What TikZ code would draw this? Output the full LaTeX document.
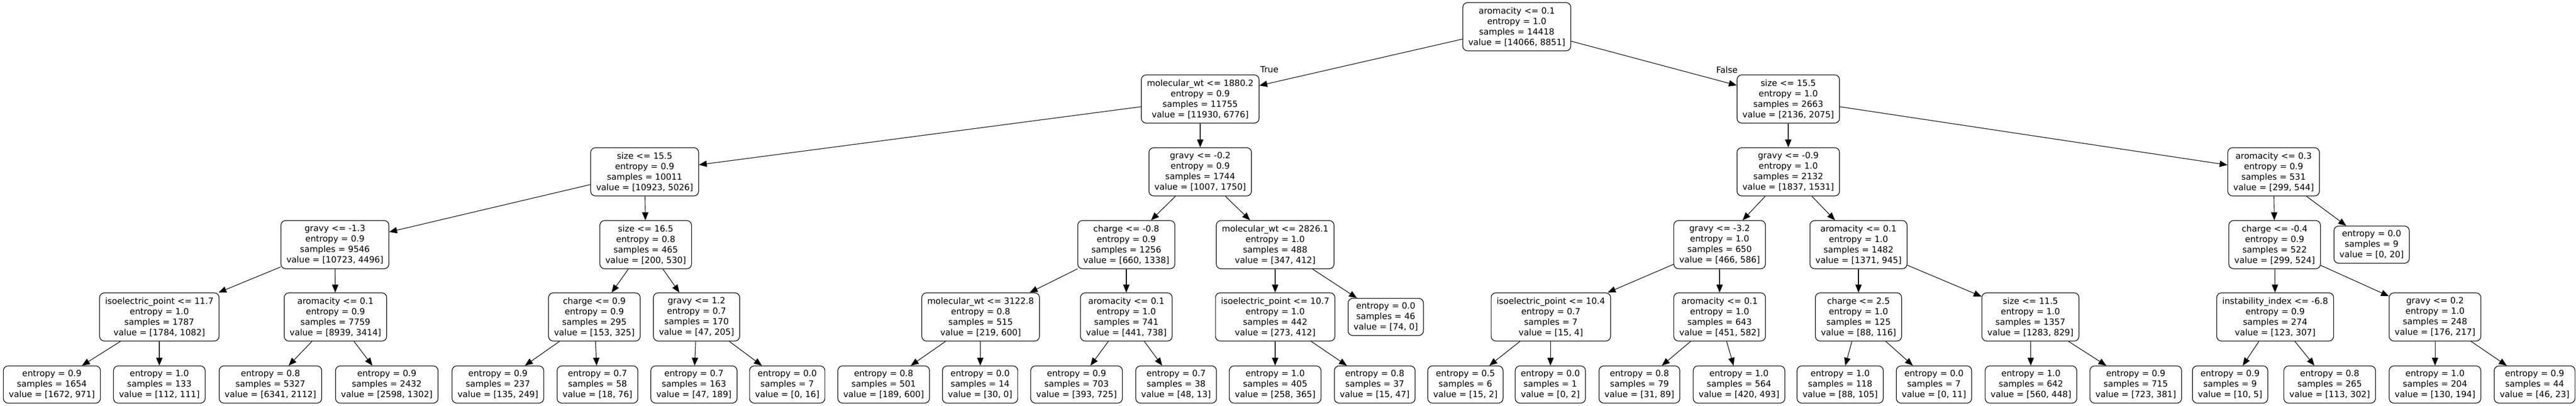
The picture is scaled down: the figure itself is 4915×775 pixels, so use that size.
\documentclass[tikz,border=0pt]{standalone}
\usepackage{fontspec}
\setmainfont{DejaVu Sans}
\usetikzlibrary{arrows.meta}

\begin{document}
\begin{tikzpicture}[x=1pt,y=-1pt,font=\fontsize{16.3}{20}\selectfont]
      \useasboundingbox (0,0) rectangle (4915,775);
      \begin{scope}[every node/.style={draw,line width=1.2pt,rounded corners=9pt,align=center,inner xsep=10.5pt,inner ysep=0pt},
          split/.style={minimum height=92pt},leaf/.style={minimum height=71pt}]
        \node[split] (0) at (2894,51) {aromacity <= 0.1\\entropy = 1.0\\samples = 14418\\value = [14066, 8851]};
        \node[split] (1) at (2290,189) {molecular\_wt <= 1880.2\\entropy = 0.9\\samples = 11755\\value = [11930, 6776]};
        \node[split] (2) at (1230,328) {size <= 15.5\\entropy = 0.9\\samples = 10011\\value = [10923, 5026]};
        \node[split] (3) at (639,467) {gravy <= -1.3\\entropy = 0.9\\samples = 9546\\value = [10723, 4496]};
        \node[split] (4) at (304,605) {isoelectric\_point <= 11.7\\entropy = 1.0\\samples = 1787\\value = [1784, 1082]};
        \node[leaf] (5) at (99,734) {entropy = 0.9\\samples = 1654\\value = [1672, 971]};
        \node[leaf] (6) at (304,734) {entropy = 1.0\\samples = 133\\value = [112, 111]};
        \node[split] (7) at (640,605) {aromacity <= 0.1\\entropy = 0.9\\samples = 7759\\value = [8939, 3414]};
        \node[leaf] (8) at (516,734) {entropy = 0.8\\samples = 5327\\value = [6341, 2112]};
        \node[leaf] (9) at (738,734) {entropy = 0.9\\samples = 2432\\value = [2598, 1302]};
        \node[split] (10) at (1232,467) {size <= 16.5\\entropy = 0.8\\samples = 465\\value = [200, 530]};
        \node[split] (11) at (1134,605) {charge <= 0.9\\entropy = 0.9\\samples = 295\\value = [153, 325]};
        \node[leaf] (12) at (950,734) {entropy = 0.9\\samples = 237\\value = [135, 249]};
        \node[leaf] (13) at (1140,734) {entropy = 0.7\\samples = 58\\value = [18, 76]};
        \node[split] (14) at (1329,605) {gravy <= 1.2\\entropy = 0.7\\samples = 170\\value = [47, 205]};
        \node[leaf] (15) at (1324,734) {entropy = 0.7\\samples = 163\\value = [47, 189]};
        \node[leaf] (16) at (1502,734) {entropy = 0.0\\samples = 7\\value = [0, 16]};
        \node[split] (17) at (2290,328) {gravy <= -0.2\\entropy = 0.9\\samples = 1744\\value = [1007, 1750]};
        \node[split] (18) at (2149,467) {charge <= -0.8\\entropy = 0.9\\samples = 1256\\value = [660, 1338]};
        \node[split] (19) at (1871,605) {molecular\_wt <= 3122.8\\entropy = 0.8\\samples = 515\\value = [219, 600]};
        \node[leaf] (20) at (1686,734) {entropy = 0.8\\samples = 501\\value = [189, 600]};
        \node[leaf] (21) at (1870,734) {entropy = 0.0\\samples = 14\\value = [30, 0]};
        \node[split] (22) at (2149,605) {aromacity <= 0.1\\entropy = 1.0\\samples = 741\\value = [441, 738]};
        \node[leaf] (23) at (2054,734) {entropy = 0.9\\samples = 703\\value = [393, 725]};
        \node[leaf] (24) at (2244,734) {entropy = 0.7\\samples = 38\\value = [48, 13]};
        \node[split] (25) at (2433,467) {molecular\_wt <= 2826.1\\entropy = 1.0\\samples = 488\\value = [347, 412]};
        \node[split] (26) at (2433,605) {isoelectric\_point <= 10.7\\entropy = 1.0\\samples = 442\\value = [273, 412]};
        \node[leaf] (27) at (2433,734) {entropy = 1.0\\samples = 405\\value = [258, 365]};
        \node[leaf] (28) at (2623,734) {entropy = 0.8\\samples = 37\\value = [15, 47]};
        \node[leaf] (29) at (2644,605) {entropy = 0.0\\samples = 46\\value = [74, 0]};
        \node[split] (30) at (3412,189) {size <= 15.5\\entropy = 1.0\\samples = 2663\\value = [2136, 2075]};
        \node[split] (31) at (3412,328) {gravy <= -0.9\\entropy = 1.0\\samples = 2132\\value = [1837, 1531]};
        \node[split] (32) at (3281,467) {gravy <= -3.2\\entropy = 1.0\\samples = 650\\value = [466, 586]};
        \node[split] (33) at (2959,605) {isoelectric\_point <= 10.4\\entropy = 0.7\\samples = 7\\value = [15, 4]};
        \node[leaf] (34) at (2796,734) {entropy = 0.5\\samples = 6\\value = [15, 2]};
        \node[leaf] (35) at (2958,734) {entropy = 0.0\\samples = 1\\value = [0, 2]};
        \node[split] (36) at (3281,605) {aromacity <= 0.1\\entropy = 1.0\\samples = 643\\value = [451, 582]};
        \node[leaf] (37) at (3128,734) {entropy = 0.8\\samples = 79\\value = [31, 89]};
        \node[leaf] (38) at (3318,734) {entropy = 1.0\\samples = 564\\value = [420, 493]};
        \node[split] (39) at (3546,467) {aromacity <= 0.1\\entropy = 1.0\\samples = 1482\\value = [1371, 945]};
        \node[split] (40) at (3546,605) {charge <= 2.5\\entropy = 1.0\\samples = 125\\value = [88, 116]};
        \node[leaf] (41) at (3511,734) {entropy = 1.0\\samples = 118\\value = [88, 105]};
        \node[leaf] (42) at (3690,734) {entropy = 0.0\\samples = 7\\value = [0, 11]};
        \node[split] (43) at (3874,605) {size <= 11.5\\entropy = 1.0\\samples = 1357\\value = [1283, 829]};
        \node[leaf] (44) at (3875,734) {entropy = 1.0\\samples = 642\\value = [560, 448]};
        \node[leaf] (45) at (4075,734) {entropy = 0.9\\samples = 715\\value = [723, 381]};
        \node[split] (46) at (4338,328) {aromacity <= 0.3\\entropy = 0.9\\samples = 531\\value = [299, 544]};
        \node[split] (47) at (4340,467) {charge <= -0.4\\entropy = 0.9\\samples = 522\\value = [299, 524]};
        \node[split] (48) at (4341,605) {instability\_index <= -6.8\\entropy = 0.9\\samples = 274\\value = [123, 307]};
        \node[leaf] (49) at (4255,734) {entropy = 0.9\\samples = 9\\value = [10, 5]};
        \node[leaf] (50) at (4445,734) {entropy = 0.8\\samples = 265\\value = [113, 302]};
        \node[split] (51) at (4646,605) {gravy <= 0.2\\entropy = 1.0\\samples = 248\\value = [176, 217]};
        \node[leaf] (52) at (4646,734) {entropy = 1.0\\samples = 204\\value = [130, 194]};
        \node[leaf] (53) at (4836,734) {entropy = 0.9\\samples = 44\\value = [46, 23]};
        \node[leaf] (54) at (4525,467) {entropy = 0.0\\samples = 9\\value = [0, 20]};
      \end{scope}
      \node (true) at (2422,133) {True};
      \node (false) at (3295,133) {False};
      \begin{scope}[every edge/.style={draw,line width=1.1pt,-{Triangle[length=15pt,width=12pt]}}]
        \path (0) edge (1);
        \path (0) edge (30);
        \path (1) edge (2);
        \path (1) edge (17);
        \path (2) edge (3);
        \path (2) edge (10);
        \path (3) edge (4);
        \path (3) edge (7);
        \path (4) edge (5);
        \path (4) edge (6);
        \path (7) edge (8);
        \path (7) edge (9);
        \path (10) edge (11);
        \path (10) edge (14);
        \path (11) edge (12);
        \path (11) edge (13);
        \path (14) edge (15);
        \path (14) edge (16);
        \path (17) edge (18);
        \path (17) edge (25);
        \path (18) edge (19);
        \path (18) edge (22);
        \path (19) edge (20);
        \path (19) edge (21);
        \path (22) edge (23);
        \path (22) edge (24);
        \path (25) edge (26);
        \path (25) edge (29);
        \path (26) edge (27);
        \path (26) edge (28);
        \path (30) edge (31);
        \path (30) edge (46);
        \path (31) edge (32);
        \path (31) edge (39);
        \path (32) edge (33);
        \path (32) edge (36);
        \path (33) edge (34);
        \path (33) edge (35);
        \path (36) edge (37);
        \path (36) edge (38);
        \path (39) edge (40);
        \path (39) edge (43);
        \path (40) edge (41);
        \path (40) edge (42);
        \path (43) edge (44);
        \path (43) edge (45);
        \path (46) edge (47);
        \path (46) edge (54);
        \path (47) edge (48);
        \path (47) edge (51);
        \path (48) edge (49);
        \path (48) edge (50);
        \path (51) edge (52);
        \path (51) edge (53);
      \end{scope}
    \end{tikzpicture}
\end{document}
